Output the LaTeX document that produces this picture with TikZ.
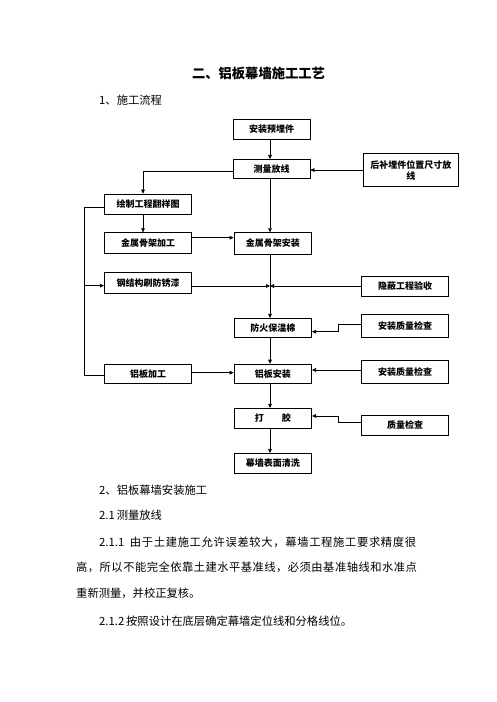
\documentclass[tikz,border=0pt]{standalone}
\usepackage{fontspec}
\newfontfamily\cjk{Noto Sans CJK SC}
\usetikzlibrary{arrows.meta,calc}
\def\spread#1{\spreadA#1\relax}
\def\spreadA#1{#1\spreadB}
\def\spreadB#1{\ifx#1\relax\else\hfil#1\expandafter\spreadB\fi}
\begin{document}
\begin{tikzpicture}[x=1pt,y=-1pt,
  box/.style={draw, line width=0.7pt, inner sep=0pt, font=\cjk\bfseries\fontsize{9}{11}\selectfont, align=center},
  arr/.style={line width=0.6pt, -{Triangle[length=4pt,width=3.6pt]}},
  ln/.style={line width=0.6pt},
  body/.style={anchor=west, inner sep=0pt, font=\cjk\fontsize{11.3}{13}\selectfont}]
\useasboundingbox[fill=white] (0,0) rectangle (496,702);
% helper x-positions
\coordinate (mainx) at (270,0);
\coordinate (leftx) at (143,0);
\coordinate (busx) at (84,0);
\coordinate (jogx) at (338,0);
% title and headings
\node[inner sep=0pt, font=\cjk\bfseries\fontsize{13.3}{16}\selectfont] (title) at (258.5,73) {二、铝板幕墙施工工艺};
\node[body] (h1) at (99,100) {1、施工流程};
% boxes
\node[box, minimum width=77pt, minimum height=20pt] (A) at (271.5,129.3) {安装预埋件};
\node[box, minimum width=77pt, minimum height=19pt] (B) at (271.5,168.8) {测量放线};
\node[box, minimum width=95pt, minimum height=33.4pt] (C) at (410.8,170) {后补埋件位置尺寸放\\线};
\node[box, minimum width=87.4pt, minimum height=20.3pt] (D) at (148,204.2) {绘制工程翻样图};
\node[box, minimum width=87.4pt, minimum height=20.6pt] (E) at (148,243) {金属骨架加工};
\node[box, minimum width=77.7pt, minimum height=21.3pt] (F) at (272.8,243.3) {金属骨架安装};
\node[box, minimum width=87.4pt, minimum height=20.6pt] (G) at (148,283) {钢结构刷防锈漆};
\node[box, minimum width=86.6pt, minimum height=20pt] (H) at (405,286) {隐蔽工程验收};
\node[box, minimum width=77.7pt, minimum height=19pt] (I) at (272.8,327.8) {防火保温棉};
\node[box, minimum width=86.6pt, minimum height=23.3pt] (J) at (405,325.7) {安装质量检查};
\node[box, minimum width=87.4pt, minimum height=19.3pt] (K) at (148,373.7) {铝板加工};
\node[box, minimum width=77.7pt, minimum height=19.3pt] (L) at (272.8,373.7) {铝板安装};
\node[box, minimum width=86.6pt, minimum height=22.6pt] (M) at (405,372) {安装质量检查};
\node[box, minimum width=77.7pt, minimum height=20pt] (N) at (272.8,418.3) {打\hspace{2em}胶};
\node[box, minimum width=86.6pt, minimum height=20pt] (O) at (405,425) {质量检查};
\node[box, minimum width=77.7pt, minimum height=20pt] (P) at (272.8,463.3) {幕墙表面清洗};
% connectors
\draw[arr] (A.south -| mainx) -- (B.north -| mainx);
\draw[arr] (C.west) -- (C.west -| B.east);
\draw[arr] ([yshift=-2pt]B.west) -| (D.north -| leftx);
\draw[arr] (B.south -| mainx) -- (F.north -| mainx);
\draw[arr] (D.south -| leftx) -- (E.north -| leftx);
\draw[arr] ([yshift=5.3pt]E.east) -- ([yshift=5.3pt]E.east -| F.west);
\draw[ln] ([yshift=-3.5pt]D.west) -- ([yshift=-3.5pt]D.west -| busx) |- ([yshift=-2pt]K.west);
\draw[arr] ([yshift=-2.7pt]G.west -| busx) -- ([yshift=-2.7pt]G.west);
\draw[arr] ([yshift=-3pt]G.east) -- ([yshift=-3pt]G.east -| mainx);
\draw[arr] (H.west) -- (H.west -| mainx);
\draw[arr] (F.south -| mainx) -- (I.north -| mainx);
\draw[arr] ([yshift=1.7pt]J.west) -- ([yshift=1.7pt]J.west -| jogx) -- ([yshift=-3.9pt]I.east -| jogx) -- ([yshift=-3.9pt]I.east);
\draw[arr] (I.south -| mainx) -- (L.north -| mainx);
\draw[arr] ([yshift=1pt]K.east) -- ([yshift=1pt]K.east -| L.west);
\draw[arr] ([yshift=2pt]M.west) -- ([yshift=2pt]M.west -| L.east);
\draw[arr] (L.south -| mainx) -- (N.north -| mainx);
\draw[arr] ([yshift=2.3pt]O.west) -- ([yshift=2.3pt]O.west -| jogx) -- ([yshift=2.3pt]N.east -| jogx) -- ([yshift=2.3pt]N.east);
\draw[arr] (N.south -| mainx) -- (P.north -| mainx);
% body text
\node[body] (t1) at (99,490) {2、铝板幕墙安装施工};
\node[body] (t2) at (99,515) {2.1\,测量放线};
\node[body] (t3) at (99,542.7) {\makebox[317pt][s]{2.1.1\hspace{0.5em}\spread{由于土建施工允许误差较大，幕墙工程施工要求精度很}}};
\node[body] (t4) at (76,567.7) {\makebox[340.7pt][s]{\spread{高，所以不能完全依靠土建水平基准线，必须由基准轴线和水准点}}};
\node[body] (t5) at (76,593.3) {重新测量，并校正复核。};
\node[body] (t6) at (99,621) {2.1.2\,按照设计在底层确定幕墙定位线和分格线位。};
\end{tikzpicture}
\end{document}
